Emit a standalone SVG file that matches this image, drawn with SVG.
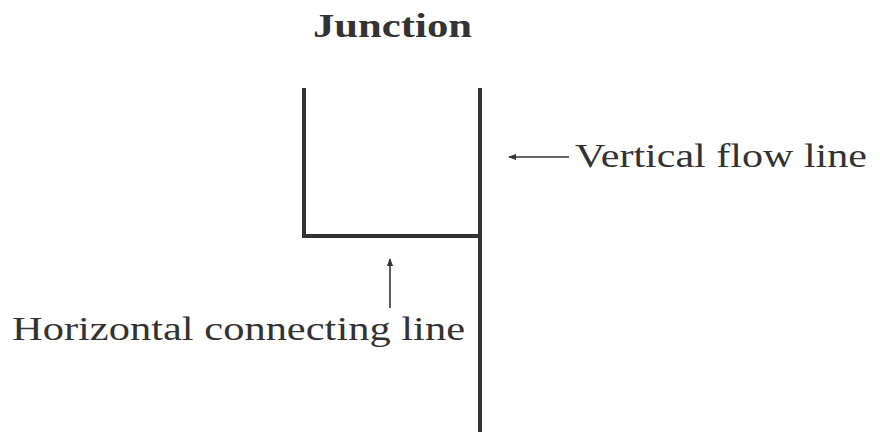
<svg xmlns="http://www.w3.org/2000/svg" width="880" height="437" viewBox="0 0 880 437">
<style>
.ln{stroke:#333;stroke-width:4;fill:none;stroke-linecap:square}
.ar{stroke:#333;stroke-width:1.6;fill:none}
.t{font-family:"Liberation Serif","DejaVu Serif",serif;fill:#333;font-size:34px}
</style>
<defs>
<marker id="ah" viewBox="0 0 10 10" refX="9" refY="5" markerWidth="8" markerHeight="8" markerUnits="userSpaceOnUse" orient="auto"><path d="M0,1 L10,5 L0,9 Z" fill="#333"/></marker>
</defs>
<rect width="880" height="437" fill="#fff"/>
<g id="junction">
<text class="t" x="313" y="37" font-weight="bold" font-size="32" textLength="159" lengthAdjust="spacingAndGlyphs">Junction</text>
<path class="ln" d="M304,90 L304,236 L480,236"/>
<path class="ln" d="M480,90 L480,430"/>
</g>
<g id="vertical-label">
<text class="t" x="575" y="167" textLength="292" lengthAdjust="spacingAndGlyphs">Vertical flow line</text>
</g>
<g id="horizontal-label">
<text class="t" x="12" y="340" textLength="453" lengthAdjust="spacingAndGlyphs">Horizontal connecting line</text>
</g>
<g id="connectors">
<line class="ar" x1="569" y1="157" x2="509" y2="157" marker-end="url(#ah)"/>
<line class="ar" x1="390" y1="308" x2="390" y2="259" marker-end="url(#ah)"/>
</g>
</svg>
